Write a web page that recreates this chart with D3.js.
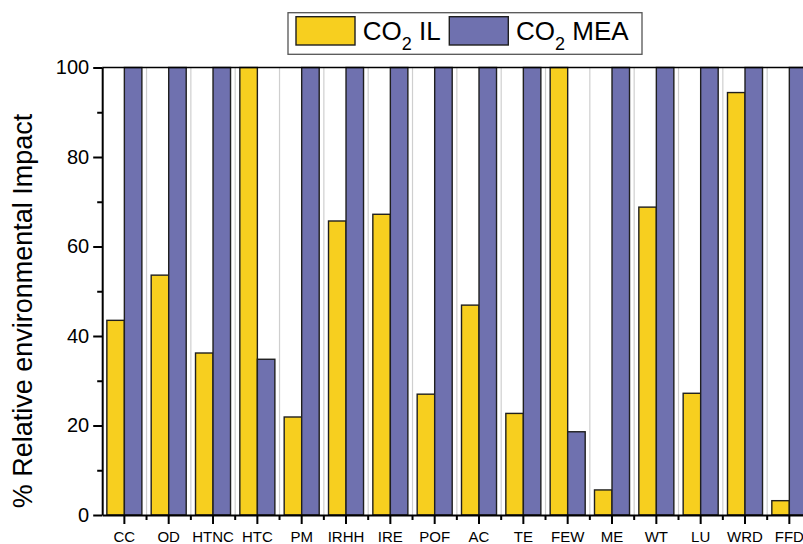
<!DOCTYPE html>
<html>
<head>
<meta charset="utf-8">
<script src="https://cdn.jsdelivr.net/npm/d3@7"></script>
<style>
  html, body { margin: 0; padding: 0; background: #fff; }
  svg { display: block; font-family: Arial, "Liberation Sans", sans-serif; }
</style>
</head>
<body>
<svg id="chart" width="803" height="544"></svg>
<script>
const categories = ["CC","OD","HTNC","HTC","PM","IRHH","IRE","POF","AC","TE","FEW","ME","WT","LU","WRD","FFD"];
const ilValues  = [43.5, 53.6, 36.2, 100, 21.9, 65.7, 67.2, 27.0, 46.9, 22.7, 100, 5.6, 68.8, 27.2, 94.4, 3.2];
const meaValues = [100, 100, 100, 34.8, 100, 100, 100, 100, 100, 100, 18.6, 100, 100, 100, 100, 100];
const seriesNames = ["IL", "MEA"];
const yTicks = [0, 20, 40, 60, 80, 100];
const yMinorTicks = [10, 30, 50, 70, 90];
const yTitle = "% Relative environmental Impact";

const colors = { IL: "#F7CF1F", MEA: "#6F71AF" };

const svg = d3.select("#chart");
const pLeft = 102.2, pRight = 811.5, pTop = 67.5, pBottom = 515;

const x0 = d3.scaleBand().domain(categories).range([pLeft, pRight]).paddingInner(0.21).paddingOuter(0.105);
const x1 = d3.scaleBand().domain(seriesNames).range([0, x0.bandwidth()]);
const y = d3.scaleLinear().domain([0, 100]).range([pBottom, pTop]);
const step = x0.step();

const data = categories.map((c, i) => ({ cat: c, IL: ilValues[i], MEA: meaValues[i] }));

// gridlines at category boundaries
const boundaries = d3.range(1, categories.length + 1).map(i => pLeft + i * step);
svg.append("g").selectAll("line").data(boundaries).join("line")
  .attr("x1", d => d).attr("x2", d => d)
  .attr("y1", pTop).attr("y2", pBottom)
  .attr("stroke", "#cfcfcf").attr("stroke-width", 1.2);

// bars
const g = svg.append("g");
data.forEach(d => {
  seriesNames.forEach(s => {
    g.append("rect")
      .attr("x", x0(d.cat) + x1(s))
      .attr("y", y(d[s]))
      .attr("width", x1.bandwidth())
      .attr("height", pBottom - y(d[s]))
      .attr("fill", colors[s])
      .attr("stroke", "#1f1f1f")
      .attr("stroke-width", 1.4);
  });
});

// top frame line
svg.append("line").attr("x1", pLeft).attr("x2", pRight).attr("y1", pTop).attr("y2", pTop)
  .attr("stroke", "#000").attr("stroke-width", 1.3);

// Y axis
const yAxis = d3.axisLeft(y).tickValues(yTicks).tickSize(9).tickPadding(4).tickSizeOuter(0);
const ya = svg.append("g").attr("transform", `translate(${pLeft},0)`).call(yAxis);
ya.select(".domain").attr("stroke-width", 2);
ya.selectAll(".tick line").attr("stroke-width", 2);
ya.selectAll(".tick text").attr("font-size", 20).attr("font-family", "Arial, 'Liberation Sans', sans-serif").attr("fill", "#000");
const yMinor = d3.axisLeft(y).tickValues(yMinorTicks).tickSize(5).tickFormat("").tickSizeOuter(0);
const ym = svg.append("g").attr("transform", `translate(${pLeft},0)`).call(yMinor);
ym.select(".domain").remove();
ym.selectAll(".tick line").attr("stroke-width", 2);

// X axis
const xAxis = d3.axisBottom(x0).tickSize(9).tickPadding(7).tickSizeOuter(0);
const xa = svg.append("g").attr("transform", `translate(0,${pBottom})`).call(xAxis);
xa.select(".domain").attr("stroke-width", 2);
xa.selectAll(".tick line").attr("stroke-width", 2);
xa.selectAll(".tick text").attr("font-size", 15).attr("font-family", "Arial, 'Liberation Sans', sans-serif").attr("fill", "#000");
svg.append("g").selectAll("line").data(boundaries).join("line")
  .attr("x1", d => d).attr("x2", d => d)
  .attr("y1", pBottom).attr("y2", pBottom + 5)
  .attr("stroke", "#000").attr("stroke-width", 2);

// Y title
svg.append("text")
  .attr("transform", `translate(31.7,311) rotate(-90)`)
  .attr("text-anchor", "middle")
  .attr("font-size", 27)
  .attr("fill", "#000")
  .text(yTitle);

// Legend
const lg = svg.append("g");
lg.append("rect").attr("x", 288).attr("y", 12.7).attr("width", 354).attr("height", 41.6)
  .attr("fill", "#fff").attr("stroke", "#555").attr("stroke-width", 1.3);
const legendItems = [
  { key: "IL", sx: 296, tx: 362.7, label: " IL" },
  { key: "MEA", sx: 449.3, tx: 516, label: " MEA" }
];
legendItems.forEach(it => {
  lg.append("rect").attr("x", it.sx).attr("y", 16.7).attr("width", 59).attr("height", 28.3)
    .attr("fill", colors[it.key]).attr("stroke", "#1f1f1f").attr("stroke-width", 1.4);
  const t = lg.append("text").attr("x", it.tx).attr("y", 40).attr("font-size", 26).attr("fill", "#000");
  t.append("tspan").text("CO");
  t.append("tspan").attr("font-size", 18).attr("dy", 9.5).text("2");
  t.append("tspan").attr("dy", -9.5).text(it.label);
});
</script>
</body>
</html>
